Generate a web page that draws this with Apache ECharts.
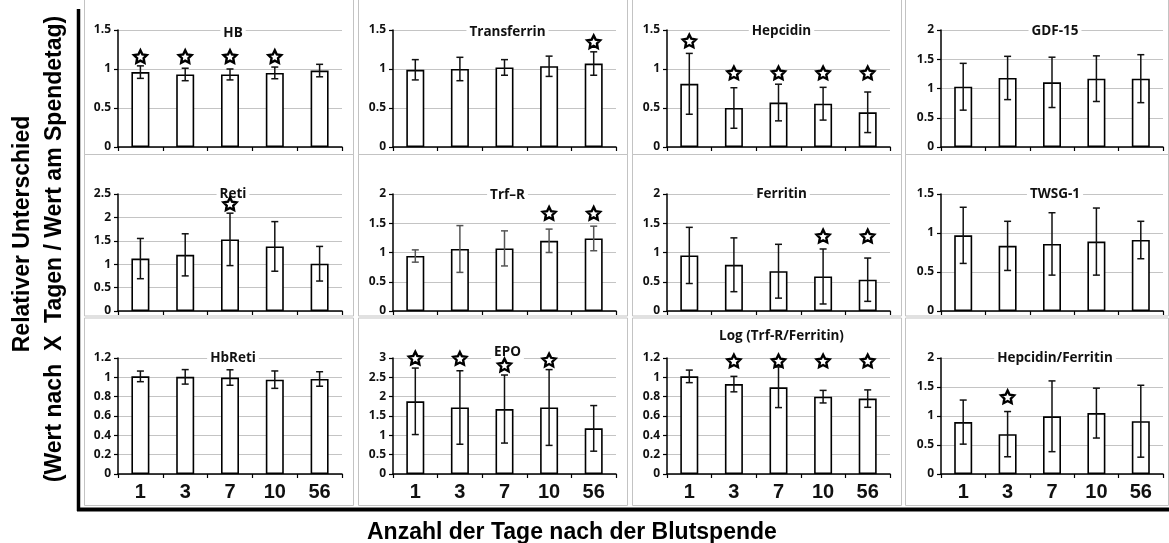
<!DOCTYPE html>
<html><head><meta charset="utf-8">
<script src="https://cdn.jsdelivr.net/npm/echarts@6/dist/echarts.min.js"></script>
<style>html,body{margin:0;padding:0;background:#fff}#c{width:1169px;height:543px}</style>
</head><body><div id="c"></div><script>
const days = ['1', '3', '7', '10', '56'];

const hbMean = [0.96, 0.93, 0.93, 0.95, 0.98];
const hbErr = [0.08, 0.08, 0.07, 0.075, 0.08];
const hbStar = [1.16, 1.16, 1.16, 1.16, null];

const trfMean = [0.99, 1.0, 1.02, 1.035, 1.07];
const trfErr = [0.13, 0.15, 0.10, 0.13, 0.15];
const trfStar = [null, null, null, null, 1.35];

const hepMean = [0.81, 0.50, 0.57, 0.555, 0.445];
const hepErr = [0.39, 0.26, 0.235, 0.21, 0.26];
const hepStar = [1.36, 0.95, 0.95, 0.95, 0.95];

const gdfMean = [1.03, 1.18, 1.105, 1.168, 1.168];
const gdfErr = [0.40, 0.37, 0.43, 0.39, 0.41];
const gdfStar = [null, null, null, null, null];

const retiMean = [1.12, 1.20, 1.53, 1.38, 1.01];
const retiErr = [0.43, 0.45, 0.56, 0.53, 0.37];
const retiStar = [null, null, 2.29, null, null];

const trfrMean = [0.94, 1.06, 1.07, 1.20, 1.24];
const trfrErr = [0.105, 0.40, 0.30, 0.20, 0.21];
const trfrStar = [null, null, null, 1.67, 1.67];

const ferMean = [0.95, 0.79, 0.68, 0.59, 0.535];
const ferErr = [0.48, 0.46, 0.46, 0.47, 0.37];
const ferStar = [null, null, null, 1.28, 1.28];

const twsgMean = [0.97, 0.835, 0.86, 0.89, 0.91];
const twsgErr = [0.36, 0.315, 0.40, 0.43, 0.24];
const twsgStar = [null, null, null, null, null];

const hbretiMean = [1.01, 1.005, 0.998, 0.976, 0.983];
const hbretiErr = [0.055, 0.075, 0.08, 0.09, 0.075];
const hbretiStar = [null, null, null, null, null];

const epoMean = [1.88, 1.72, 1.68, 1.72, 1.18];
const epoErr = [0.86, 0.95, 0.88, 0.98, 0.59];
const epoStar = [3.0, 2.99, 2.82, 2.95, null];

const logMean = [1.01, 0.93, 0.897, 0.80, 0.78];
const logErr = [0.065, 0.08, 0.21, 0.065, 0.09];
const logStar = [null, 1.17, 1.17, 1.17, 1.17];

const hfMean = [0.895, 0.687, 0.995, 1.05, 0.91];
const hfErr = [0.38, 0.39, 0.61, 0.43, 0.62];
const hfStar = [null, 1.33, null, null, null];

const panels = [
  {title: 'HB', mean: hbMean, err: hbErr, star: hbStar, max: 1.5, step: 0.5, ty: 32},
  {title: 'Transferrin', mean: trfMean, err: trfErr, star: trfStar, max: 1.5, step: 0.5, ty: 31},
  {title: 'Hepcidin', mean: hepMean, err: hepErr, star: hepStar, max: 1.5, step: 0.5, ty: 30},
  {title: 'GDF-15', mean: gdfMean, err: gdfErr, star: gdfStar, max: 2, step: 0.5, ty: 30},
  {title: 'Reti', mean: retiMean, err: retiErr, star: retiStar, max: 2.5, step: 0.5, ty: 193},
  {title: 'Trf\u2013R', mean: trfrMean, err: trfrErr, star: trfrStar, max: 2, step: 0.5, ty: 194, errColor: '#555'},
  {title: 'Ferritin', mean: ferMean, err: ferErr, star: ferStar, max: 2, step: 0.5, ty: 193},
  {title: 'TWSG-1', mean: twsgMean, err: twsgErr, star: twsgStar, max: 1.5, step: 0.5, ty: 193},
  {title: 'HbReti', mean: hbretiMean, err: hbretiErr, star: hbretiStar, max: 1.2, step: 0.2, ty: 357},
  {title: 'EPO', mean: epoMean, err: epoErr, star: epoStar, max: 3, step: 0.5, ty: 351},
  {title: 'Log (Trf-R/Ferritin)', mean: logMean, err: logErr, star: logStar, max: 1.2, step: 0.2, ty: 335},
  {title: 'Hepcidin/Ferritin', mean: hfMean, err: hfErr, star: hfStar, max: 2, step: 0.5, ty: 357}
];

const colLeft = [118, 393, 667, 941];
const colW = [224, 223, 223, 222];
const rowTop = [30, 194, 358];
const rowH = [117, 117, 116];

const starPath = 'path://M0,-10 L2.94,-4.05 L9.51,-3.09 L4.76,1.55 L5.88,8.09 L0,5 L-5.88,8.09 L-4.76,1.55 L-9.51,-3.09 L-2.94,-4.05 Z';

const grids = [], xAxes = [], yAxes = [], series = [], titles = [];

panels.forEach((p, i) => {
  const c = i % 4, r = Math.floor(i / 4);
  grids.push({left: colLeft[c], top: rowTop[r], width: colW[c], height: rowH[r], containLabel: false});
  xAxes.push({
    type: 'category', gridIndex: i, data: days, boundaryGap: true,
    axisLine: {show: true, lineStyle: {color: '#000', width: 1.5}},
    axisTick: {show: true, length: 4, lineStyle: {color: '#000', width: 1.2}},
    axisLabel: {show: r === 2, fontSize: 20, fontWeight: 'bold', fontFamily: 'Liberation Sans', color: '#111', margin: 8},
    splitLine: {show: false}
  });
  yAxes.push({
    type: 'value', gridIndex: i, min: 0, max: p.max, interval: p.step,
    axisLine: {show: true, lineStyle: {color: '#000', width: 1.5}},
    axisTick: {show: true, length: 4, lineStyle: {color: '#000', width: 1.2}},
    axisLabel: {fontSize: 12, fontWeight: 'bold', fontFamily: 'Open Sans', color: '#111', margin: 7},
    splitLine: {show: true, lineStyle: {color: '#c4c4c4', width: 1}}
  });
  titles.push({
    text: p.title, left: colLeft[c] + colW[c] / 2, top: p.ty, z: 1,
    textAlign: 'center', textVerticalAlign: 'middle',
    backgroundColor: '#fff', padding: [1, 3],
    textStyle: {fontSize: 13.5, fontWeight: 'bold', fontFamily: 'Open Sans', color: '#111'}
  });
  series.push({
    type: 'bar', xAxisIndex: i, yAxisIndex: i, data: p.mean, barWidth: 18, z: 2,
    itemStyle: {color: '#fff', borderColor: '#000', borderWidth: 1.6},
    silent: true
  });
  const ec = p.errColor || '#111';
  series.push({
    type: 'custom', xAxisIndex: i, yAxisIndex: i, z: 3, silent: true,
    data: p.mean.map((m, k) => [k, m, p.err[k]]),
    encode: {x: 0, y: 1},
    renderItem: (params, api) => {
      const x = api.value(0), m = api.value(1), e = api.value(2);
      const hi = api.coord([x, m + e]), lo = api.coord([x, m - e]);
      const w = 3.5;
      const st = {stroke: ec, lineWidth: 1.5};
      return {type: 'group', children: [
        {type: 'line', shape: {x1: hi[0], y1: hi[1], x2: lo[0], y2: lo[1]}, style: st},
        {type: 'line', shape: {x1: hi[0] - w, y1: hi[1], x2: hi[0] + w, y2: hi[1]}, style: st},
        {type: 'line', shape: {x1: lo[0] - w, y1: lo[1], x2: lo[0] + w, y2: lo[1]}, style: st}
      ]};
    }
  });
  const stars = p.star.map((s, k) => s == null ? null : [k, s]).filter(Boolean);
  if (stars.length) {
    series.push({
      type: 'scatter', xAxisIndex: i, yAxisIndex: i, z: 10, clip: false, silent: true,
      data: stars, symbol: starPath, symbolSize: [13, 12.5],
      itemStyle: {color: '#fff', borderColor: '#000', borderWidth: 2.4, opacity: 1}
    });
  }
});

const cols = [[84, 353], [358, 627], [632, 901], [905, 1168]];
const rows = [[-2, 154], [154, 315.5], [317.5, 505]];
const graphics = [];
rows.forEach(rw => cols.forEach(cl => {
  graphics.push({type: 'rect', z: -10, silent: true,
    shape: {x: cl[0] + 0.5, y: rw[0] + 0.5, width: cl[1] - cl[0], height: rw[1] - rw[0]},
    style: {fill: 'none', stroke: '#c3c3c3', lineWidth: 1}});
}));
graphics.push({type: 'line', z: 50, silent: true, shape: {x1: 78.5, y1: 9, x2: 78.5, y2: 511}, style: {stroke: '#000', lineWidth: 3.5}});
graphics.push({type: 'line', z: 50, silent: true, shape: {x1: 77, y1: 509.5, x2: 1169, y2: 509.5}, style: {stroke: '#000', lineWidth: 4}});
graphics.push({type: 'text', z: 50, silent: true, x: 23, y: 234, rotation: Math.PI / 2,
  style: {text: 'Relativer Unterschied', font: 'bold 23px "Liberation Sans"', fill: '#000', align: 'center', verticalAlign: 'middle'}});
graphics.push({type: 'text', z: 50, silent: true, x: 55, y: 249, rotation: Math.PI / 2,
  style: {text: '(Wert nach  X  Tagen / Wert am Spendetag)', font: 'bold 23px "Liberation Sans"', fill: '#000', align: 'center', verticalAlign: 'middle'}});
graphics.push({type: 'text', z: 50, silent: true, x: 367, y: 533,
  style: {text: 'Anzahl der Tage nach der Blutspende', font: 'bold 23px "Liberation Sans"', fill: '#000', align: 'left', verticalAlign: 'middle'}});

const chart = echarts.init(document.getElementById('c'), null, {renderer: 'canvas'});
chart.setOption({
  animation: false,
  backgroundColor: '#fff',
  title: titles,
  grid: grids,
  xAxis: xAxes,
  yAxis: yAxes,
  series: series,
  graphic: graphics
});
</script></body></html>
